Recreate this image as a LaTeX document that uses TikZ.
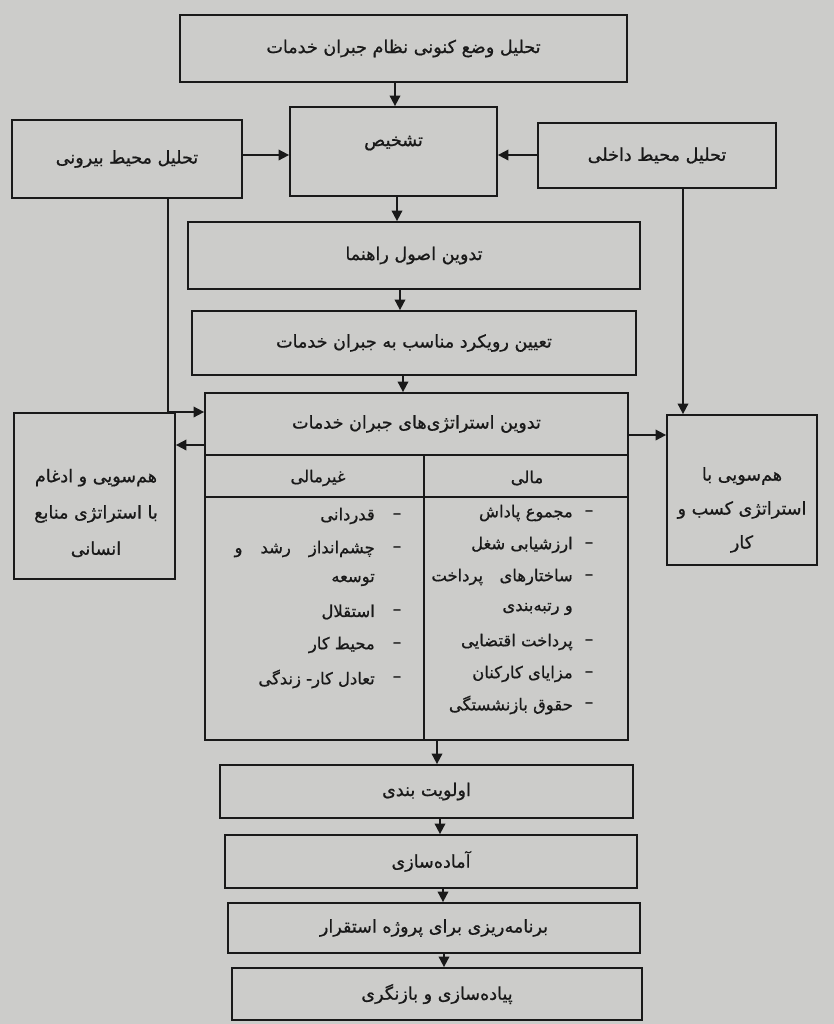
\documentclass[tikz,border=0pt]{standalone}
\usepackage{fontspec}
\usetikzlibrary{arrows.meta}
\newfontfamily\farsi[Script=Arabic, FakeBold=0.8]{DejaVu Sans}
\TeXXeTstate=1
\newcommand{\fatext}[1]{\beginR #1\endR}
\definecolor{paper}{RGB}{204,204,202}
\definecolor{ink}{RGB}{25,25,25}
\tikzset{
  box/.style={draw=ink, line width=1.5pt, rectangle, inner sep=2pt, text=ink,
    align=center, font=\farsi\fontsize{15}{30}\selectfont},
  arr/.style={draw=ink, line width=1.5pt, -{Triangle[length=9pt,width=9pt]}},
  item/.style={anchor=east, inner sep=0pt, text=ink, font=\farsi\fontsize{14}{16}\selectfont},
  plain/.style={inner sep=0pt, text=ink, align=center, font=\farsi\fontsize{14}{16}\selectfont},
}
\begin{document}
\begin{tikzpicture}[x=0.03cm, y=-0.03cm]
    \fill[paper] (0,0) rectangle (834,1024);
    \useasboundingbox (0,0) rectangle (834,1024);
    % upper part
    \node[box, minimum width=13.41cm, minimum height=2.01cm] (now) at (403.5,48.5) {\fatext{تحلیل وضع کنونی نظام جبران خدمات}};
    \node[box, minimum width=6.21cm, minimum height=2.67cm] (diag) at (393.5,151.5) {\fatext{تشخیص}\\[-12pt]\mbox{}};
    \node[box, minimum width=6.9cm, minimum height=2.34cm] (ext) at (127,159) {\fatext{تحلیل محیط بیرونی}};
    \node[box, minimum width=7.14cm, minimum height=1.95cm] (int) at (657,155.5) {\fatext{تحلیل محیط داخلی}};
    \node[box, minimum width=13.56cm, minimum height=2.01cm] (guide) at (414,255.5) {\fatext{تدوین اصول راهنما}};
    \node[box, minimum width=13.32cm, minimum height=1.92cm] (appr) at (414,343) {\fatext{تعیین رویکرد مناسب به جبران خدمات}};
    \node[box, minimum width=12.69cm, minimum height=1.86cm] (strat) at (416.5,424) {\fatext{تدوین استراتژی‌های جبران خدمات}};
    \node[box, minimum width=12.69cm, minimum height=8.55cm] (stab) at (416.5,597.5) {};
    \node[box, minimum width=4.83cm, minimum height=4.98cm] (hrm) at (94.5,496) {};
    \node[plain, font=\farsi\fontsize{15}{31}\selectfont] (hrmtext) at (96,513) {\fatext{هم‌سویی و ادغام}\\ \fatext{با استراتژی منابع}\\ \fatext{انسانی}};
    \node[box, minimum width=4.5cm, minimum height=4.5cm] (biz) at (742,490) {};
    \node[plain, font=\farsi\fontsize{15}{29}\selectfont] (biztext) at (742,510) {\fatext{هم‌سویی با}\\ \fatext{استراتژی کسب و}\\ \fatext{کار}};
    % table
    \draw[draw=ink, line width=1.5pt] (stab.west |- 0,497) -- (stab.east |- 0,497);
    \draw[draw=ink, line width=1.5pt] (stab.north -| 424,0) -- (stab.south -| 424,0);
    \node[plain] (nonfin) at (318,478) {\fatext{غیرمالی}};
    \node[plain] (fin) at (527,478) {\fatext{مالی}};
    \foreach \y/\t in {513/{مجموع پاداش}, 545/{ارزشیابی شغل}, 577/{ساختارهای\quad پرداخت}, 642/{پرداخت اقتضایی}, 674/{مزایای کارکنان}, 705/{حقوق بازنشستگی}}
        \node[plain] at (589,\y) {–} node[item] at (573,\y) {\fatext{\t}};
    \node[item] (rank) at (573,609) {\fatext{و رتبه‌بندی}};
    \foreach \y/\t in {516/{قدردانی}, 549/{چشم‌انداز\hspace{1.1em}رشد\hspace{1.1em}و}, 612/{استقلال}, 645/{محیط کار}, 679/{تعادل کار- زندگی}}
        \node[plain] at (397,\y) {–} node[item] at (375,\y) {\fatext{\t}};
    \node[item] (dev) at (375,580) {\fatext{توسعه}};
    % lower part
    \node[box, minimum width=12.39cm, minimum height=1.59cm] (prio) at (426.5,791.5) {\fatext{اولویت بندی}};
    \node[box, minimum width=12.36cm, minimum height=1.59cm] (prep) at (431,861.5) {\fatext{آماده‌سازی}};
    \node[box, minimum width=12.36cm, minimum height=1.5cm] (plan) at (434,928) {\fatext{برنامه‌ریزی برای پروژه استقرار}};
    \node[box, minimum width=12.3cm, minimum height=1.56cm] (impl) at (437,994) {\fatext{پیاده‌سازی و بازنگری}};
    % arrows
    \draw[arr] (now.south -| 395,0) -- (diag.north -| 395,0);
    \draw[arr] (ext.east |- 0,155) -- (diag.west |- 0,155);
    \draw[arr] (int.west |- 0,155) -- (diag.east |- 0,155);
    \draw[arr] (diag.south -| 397,0) -- (guide.north -| 397,0);
    \draw[arr] (guide.south -| 400,0) -- (appr.north -| 400,0);
    \draw[arr] (appr.south -| 403,0) -- (strat.north -| 403,0);
    \draw[arr] (ext.south -| 168,0) |- (strat.west |- 0,412);
    \draw[arr] (int.south -| 683,0) -- (biz.north -| 683,0);
    \draw[arr] (strat.west |- 0,445) -- (hrm.east |- 0,445);
    \draw[arr] (strat.east |- 0,435) -- (biz.west |- 0,435);
    \draw[arr] (stab.south -| 437,0) -- (prio.north -| 437,0);
    \draw[arr] (prio.south -| 440,0) -- (prep.north -| 440,0);
    \draw[arr] (prep.south -| 443,0) -- (plan.north -| 443,0);
    \draw[arr] (plan.south -| 444,0) -- (impl.north -| 444,0);
\end{tikzpicture}
\end{document}
